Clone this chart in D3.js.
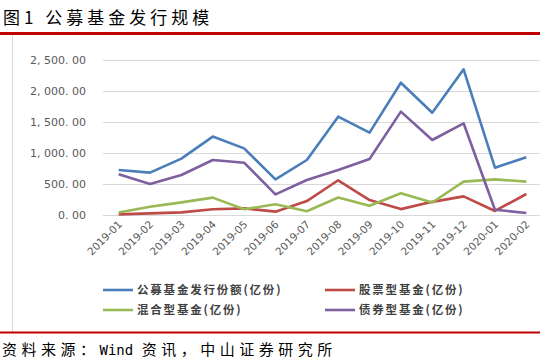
<!DOCTYPE html>
<html>
<head>
<meta charset="utf-8">
<script src="https://cdn.jsdelivr.net/npm/d3@7"></script>
<style>
  body { margin: 0; background: #fff; }
  svg { display: block; }
</style>
</head>
<body>
<svg id="chart" width="540" height="361"></svg>
<script>
// data (亿份)
const months = ["2019-01", "2019-02", "2019-03", "2019-04", "2019-05", "2019-06", "2019-07",
                "2019-08", "2019-09", "2019-10", "2019-11", "2019-12", "2020-01", "2020-02"];
const totalIssue = [726, 683, 910, 1265, 1075, 575, 887, 1586, 1328, 2134, 1650, 2349, 763, 930];
const stockFund  = [10, 27, 43, 92, 107, 54, 225, 560, 240, 95, 212, 300, 65, 339];
const mixedFund  = [40, 134, 204, 280, 92, 172, 60, 282, 150, 350, 202, 538, 575, 538];
const bondFund   = [656, 500, 645, 887, 844, 333, 565, 726, 903, 1667, 1210, 1479, 85, 33];
const yTicks = [0, 500, 1000, 1500, 2000, 2500];

const series = [
  {name: "公募基金发行份额(亿份)", values: totalIssue, color: "#4a7ebb"},
  {name: "股票型基金(亿份)", values: stockFund, color: "#be4b48"},
  {name: "混合型基金(亿份)", values: mixedFund, color: "#98b954"},
  {name: "债券型基金(亿份)", values: bondFund, color: "#7d60a0"}
];

const svg = d3.select("#chart");
const cjk = "'Noto Sans CJK SC', sans-serif";

// title + frame
svg.append("text")
  .attr("x", 3).attr("y", 24)
  .attr("font-family", cjk).attr("font-size", 17)
  .attr("letter-spacing", 4)
  .attr("fill", "#000")
  .text("图1 公募基金发行规模");

svg.append("rect").attr("x", 0).attr("y", 32).attr("width", 540).attr("height", 3).attr("fill", "#c00000");
svg.append("line").attr("x1", 12.5).attr("x2", 12.5).attr("y1", 35).attr("y2", 332)
  .attr("stroke", "#d9d9d9").attr("stroke-width", 1);
svg.append("rect").attr("x", 0).attr("y", 331.5).attr("width", 540).attr("height", 2).attr("fill", "#c00000");

const src = svg.append("text")
  .attr("x", 2).attr("y", 355)
  .attr("font-family", cjk).attr("font-size", 15)
  .attr("fill", "#000");
src.append("tspan").attr("letter-spacing", 4.5).text("资料来源：");
src.append("tspan").attr("font-family", "'DejaVu Sans Mono', monospace").attr("font-size", 14).text("Wind ");
src.append("tspan").attr("letter-spacing", 4.5).text("资讯，中山证券研究所");

// scales
const x = d3.scaleBand().domain(months).range([103, 542]);
const y = d3.scaleLinear().domain([0, 2500]).range([215, 60]);
const cx = d => x(d) + x.bandwidth() / 2;

// grid
svg.append("g")
  .selectAll("line")
  .data(yTicks)
  .join("line")
    .attr("x1", 103).attr("x2", 540)
    .attr("y1", d => Math.round(y(d)) + 0.5)
    .attr("y2", d => Math.round(y(d)) + 0.5)
    .attr("stroke", "#d9d9d9").attr("stroke-width", 1.2);

// y labels
const fmt = d3.format(",.2f");
svg.append("g")
  .selectAll("text")
  .data(yTicks)
  .join("text")
    .attr("x", 86).attr("y", d => y(d) + 4)
    .attr("text-anchor", "end")
    .attr("font-family", "'DejaVu Sans', sans-serif").attr("font-size", 11)
    .attr("fill", "#595959")
    .text(d => fmt(d).replace(",", ", ").replace(".", ". "));

// x labels
svg.append("g")
  .selectAll("text")
  .data(months)
  .join("text")
    .attr("transform", d => `translate(${cx(d) + 4},${225}) rotate(-45)`)
    .attr("text-anchor", "end")
    .attr("font-family", "'DejaVu Sans', sans-serif").attr("font-size", 10.5)
    .attr("fill", "#595959")
    .text(d => d);

// lines
const line = d3.line()
  .x((d, i) => cx(months[i]))
  .y(d => y(d));

svg.append("g")
  .selectAll("path")
  .data(series)
  .join("path")
    .attr("d", d => line(d.values))
    .attr("fill", "none")
    .attr("stroke", d => d.color)
    .attr("stroke-width", 2.6)
    .attr("stroke-linejoin", "round");

// legend
const legend = svg.append("g")
  .selectAll("g")
  .data(series)
  .join("g")
    .attr("transform", (d, i) => `translate(${i % 2 === 0 ? 103 : 325},${i < 2 ? 290 : 310})`);

legend.append("line")
  .attr("x1", 0).attr("x2", 30).attr("y1", 0).attr("y2", 0)
  .attr("stroke", d => d.color).attr("stroke-width", 2.6);

legend.append("text")
  .attr("x", 34).attr("y", 4)
  .attr("font-family", cjk).attr("font-size", 11.5).attr("font-weight", "bold")
  .attr("letter-spacing", 1.8)
  .attr("fill", "#404040")
  .text(d => d.name);
</script>
</body>
</html>
